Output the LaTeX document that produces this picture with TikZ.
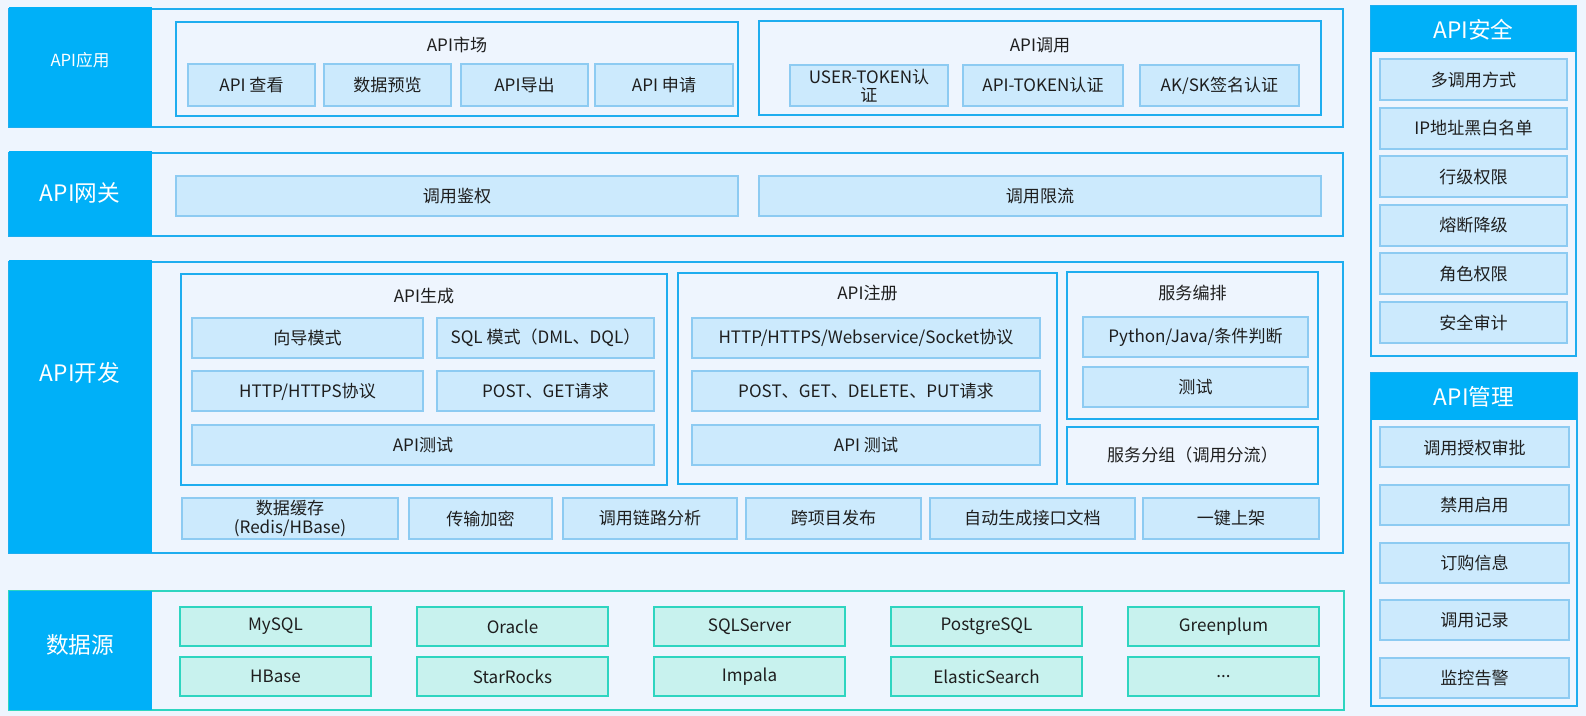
\documentclass[tikz,border=0pt]{standalone}
\usepackage{fontspec}
\setmainfont{Noto Sans CJK SC}
\usetikzlibrary{positioning}
\definecolor{bgc}{HTML}{EEF5FE}
\definecolor{lblue}{HTML}{00B0F8}
\definecolor{frm}{HTML}{1EADEF}
\definecolor{subf}{HTML}{CCEAFD}
\definecolor{subd}{HTML}{8DCBF2}
\definecolor{dsf}{HTML}{C8F2EE}
\definecolor{dsd}{HTML}{2ED5C0}
\definecolor{txt}{HTML}{1E1E1E}
\tikzset{
  sz/.style 2 args={minimum width=#1*0.75pt,minimum height=#2*0.75pt},
  layer/.style={draw=frm,line width=1.5pt,fill=bgc,inner sep=0pt},
  lbl/.style={fill=lblue,inner sep=0pt},
  grp/.style={draw=frm,line width=1.5pt,inner sep=0pt},
  sub/.style={draw=subd,fill=subf,line width=1.5pt,inner sep=1pt,
    font=\fontsize{12.8}{15.5}\selectfont,text=txt,align=center},
  dsrc/.style={sub,draw=dsd,fill=dsf},
  ttl/.style={font=\fontsize{12.8}{15}\selectfont,text=txt},
  big/.style={font=\fontsize{17}{20}\selectfont,text=white},
}

\begin{document}
\begin{tikzpicture}[x=0.75pt,y=-0.75pt]
  \fill[bgc] (0,0) rectangle (1586,716);
  \useasboundingbox (0,0) rectangle (1586,716);

  % ---- API应用 ----
  \node[layer,sz={1334}{118}] (app) at (676,68) {};
  \node[lbl,sz={143}{120}] (appL) at (80.5,67) {};
  \node[big,font=\fontsize{12.5}{15}\selectfont] (appT) at (80,60) {API应用};
  \node[grp,sz={562}{94}] (mkt) at (457,69) {};
  \node[ttl] (mktT) at (457,45) {API市场};
  \node[sub,sz={127}{42}] (mk1) at (251.5,85) {API 查看};
  \node[sub,sz={127}{42}] (mk2) at (387.5,85) {数据预览};
  \node[sub,sz={127}{42}] (mk3) at (524.5,85) {API导出};
  \node[sub,sz={138}{42}] (mk4) at (664,85) {API 申请};
  \node[grp,sz={562}{94}] (cal) at (1040,68) {};
  \node[ttl] (calT) at (1040,45) {API调用};
  \node[sub,sz={158}{41},font=\fontsize{12.8}{13.5}\selectfont] (ca1) at (869,85.5) {USER-TOKEN认\\证};
  \node[sub,sz={160}{41}] (ca2) at (1043,85.5) {API-TOKEN认证};
  \node[sub,sz={159}{41}] (ca3) at (1219.5,85.5) {AK/SK签名认证};

  % ---- API网关 ----
  \node[layer,sz={1334}{83}] (gw) at (676,194.5) {};
  \node[lbl,sz={143}{85}] (gwL) at (80.5,193.5) {};
  \node[big] (gwT) at (80,193) {API网关};
  \node[sub,sz={562}{40}] (gw1) at (457,196) {调用鉴权};
  \node[sub,sz={562}{40}] (gw2) at (1040,196) {调用限流};

  % ---- API开发 ----
  \node[layer,sz={1334}{291}] (dev) at (676,407.5) {};
  \node[lbl,sz={143}{293}] (devL) at (80.5,406.5) {};
  \node[big] (devT) at (80,373) {API开发};
  % API生成
  \node[grp,sz={486}{211}] (gen) at (424,379.5) {};
  \node[ttl] (genT) at (424,296) {API生成};
  \node[sub,sz={231}{40}] (ge1) at (307.5,338) {向导模式};
  \node[sub,sz={217}{40}] (ge2) at (545.5,338) {SQL 模式（DML、DQL）};
  \node[sub,sz={231}{40}] (ge3) at (307.5,391.5) {HTTP/HTTPS协议};
  \node[sub,sz={217}{40}] (ge4) at (545.5,391.5) {POST、GET请求};
  \node[sub,sz={462}{40}] (ge5) at (423,445.5) {API测试};
  % API注册
  \node[grp,sz={379}{211}] (reg) at (867.5,378.5) {};
  \node[ttl] (regT) at (867.5,293) {API注册};
  \node[sub,sz={348}{40}] (re1) at (866,338) {HTTP/HTTPS/Webservice/Socket协议};
  \node[sub,sz={348}{40}] (re2) at (866,391.5) {POST、GET、DELETE、PUT请求};
  \node[sub,sz={348}{40}] (re3) at (866,445.5) {API 测试};
  % 服务编排 / 服务分组
  \node[grp,sz={251}{147}] (orc) at (1192.5,345.5) {};
  \node[ttl] (orcT) at (1192.5,293) {服务编排};
  \node[sub,sz={225}{40}] (or1) at (1195.5,337) {Python/Java/条件判断};
  \node[sub,sz={225}{40}] (or2) at (1195.5,387.5) {测试};
  \node[grp,sz={251}{57},ttl] (grpS) at (1192.5,455.5) {服务分组（调用分流）};
  % bottom row of 开发
  \node[sub,sz={216}{41},font=\fontsize{12.8}{14}\selectfont] (dv1) at (290,518.5) {数据缓存\\(Redis/HBase)};
  \node[sub,sz={143}{41}] (dv2) at (480.5,518.5) {传输加密};
  \node[sub,sz={174}{41}] (dv3) at (650,518.5) {调用链路分析};
  \node[sub,sz={175}{41}] (dv4) at (833.5,518.5) {跨项目发布};
  \node[sub,sz={205}{41}] (dv5) at (1032.5,518.5) {自动生成接口文档};
  \node[sub,sz={176}{41}] (dv6) at (1231,518.5) {一键上架};

  % ---- 数据源 ----
  \node[layer,draw=dsd,sz={1335}{119}] (ds) at (676.5,650.5) {};
  \node[lbl,sz={143}{119}] (dsL) at (80.5,650.5) {};
  \node[big] (dsT) at (80,645) {数据源};
  \foreach \t [count=\i from 0] in {MySQL,Oracle,SQLServer,PostgreSQL,Greenplum}
    \node[dsrc,sz={191}{39}] (dsa\i) at (275.5+237*\i,626.5) {\t};
  \foreach \t [count=\i from 0] in {HBase,StarRocks,Impala,ElasticSearch}
    \node[dsrc,sz={191}{39}] (dsb\i) at (275.5+237*\i,676.5) {\t};
  \node[dsrc,sz={191}{39}] (dsb4) at (1223.5,676.5) {...};

  % ---- API安全 ----
  \node[layer,sz={205}{350}] (sec) at (1473.5,181) {};
  \node[lbl,sz={205}{46}] (secH) at (1473.5,29) {};
  \node[big] (secT) at (1473.5,30) {API安全};
  \foreach \t [count=\i from 0] in {多调用方式,IP地址黑白名单,行级权限,熔断降级,角色权限,安全审计}
    \node[sub,sz={187}{41}] (se\i) at (1473.5,80+48.5*\i) {\t};

  % ---- API管理 ----
  \node[layer,sz={206}{333}] (mgr) at (1474,539.5) {};
  \node[lbl,sz={206}{47}] (mgrH) at (1474,396.5) {};
  \node[big] (mgrT) at (1474,396.5) {API管理};
  \foreach \t [count=\i from 0] in {调用授权审批,禁用启用,订购信息,调用记录,监控告警}
    \node[sub,sz={189}{40}] (mg\i) at (1474.5,447.5+57.6*\i) {\t};
\end{tikzpicture}
\end{document}
